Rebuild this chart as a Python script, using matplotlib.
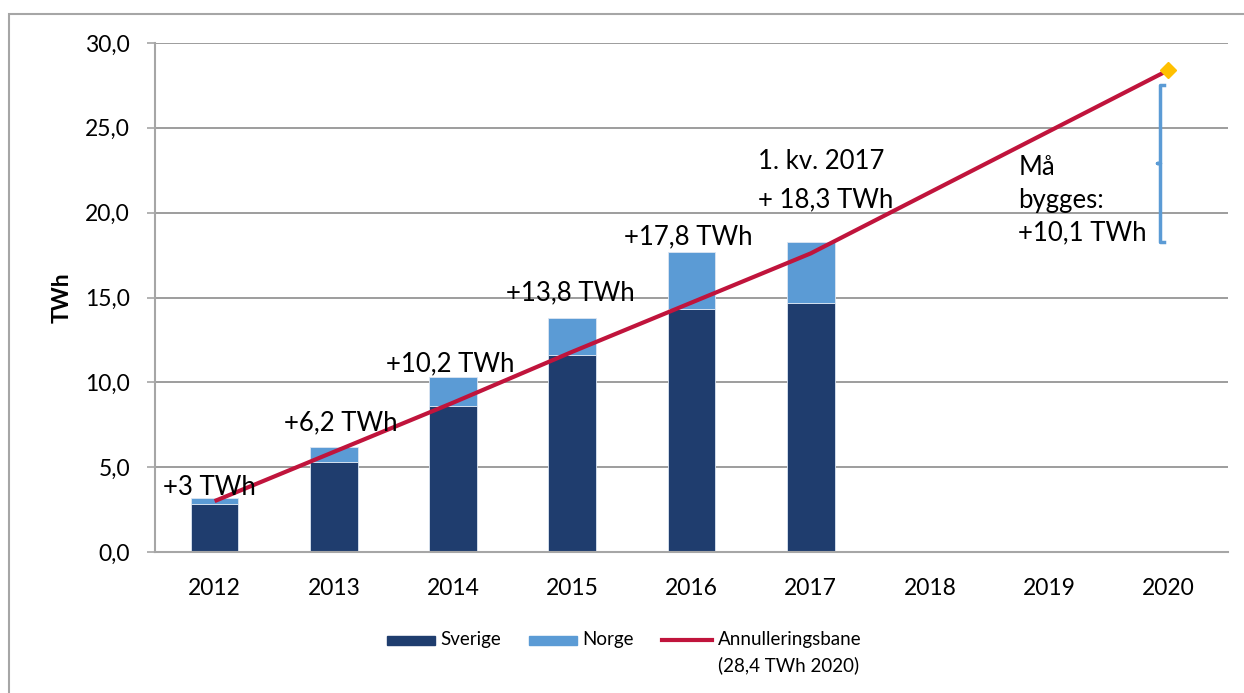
import matplotlib.pyplot as plt
from matplotlib.patches import Rectangle
from matplotlib.lines import Line2D

plt.rcParams["font.family"] = ["Lato", "DejaVu Sans"]

# data
aar = ["2012", "2013", "2014", "2015", "2016", "2017", "2018", "2019", "2020"]
sverige = [2.8, 5.3, 8.6, 11.6, 14.3, 14.7]
norge = [0.4, 0.9, 1.7, 2.2, 3.4, 3.6]
bane = [3.0, 5.9, 8.8, 11.8, 14.7, 17.6, 21.2, 24.8, 28.4]
etiketter = ["+3 TWh", "+6,2 TWh", "+10,2 TWh", "+13,8 TWh", "+17,8 TWh"]
kv_tekst = "1. kv. 2017\n+ 18,3 TWh"
maa_bygges = "Må\nbygges:\n+10,1 TWh"
klamme_topp = 27.5
klamme_bunn = 18.3

farge_sve = "#1F3D6E"
farge_nor = "#5B9BD5"
farge_bane = "#C0143C"
farge_grid = "#8C8C8C"

fig = plt.figure(figsize=(12.44, 6.93), dpi=100)
ax = fig.add_axes([155 / 1244, 1 - 552 / 693, (1228 - 155) / 1244, (552 - 43) / 693])

x = list(range(len(aar)))
xb = x[:len(sverige)]
ax.bar(xb, sverige, width=0.4, color=farge_sve, edgecolor="#DCE6F2", linewidth=0.6, zorder=2)
ax.bar(xb, norge, width=0.4, bottom=sverige, color=farge_nor, edgecolor="#DCE6F2",
       linewidth=0.6, zorder=2)
ax.plot(x, bane, color=farge_bane, linewidth=3, zorder=3, solid_capstyle="butt")
ax.plot([x[-1]], [bane[-1]], marker="D", color="#FFC000", markersize=8, zorder=4,
        clip_on=False)

# klamme
kx = 7.93
kmid = (klamme_topp + klamme_bunn) / 2
ax.plot([kx + 0.03, kx, kx, kx - 0.025, kx, kx, kx + 0.03],
        [klamme_topp, klamme_topp, kmid, kmid, kmid, klamme_bunn, klamme_bunn],
        color=farge_nor, linewidth=2.5, zorder=3, solid_joinstyle="round")

# etiketter
pos = [(-0.43, 3.8), (0.58, 7.6), (1.44, 11.1), (2.44, 15.3), (3.43, 18.6)]
for (px, py), t in zip(pos, etiketter):
    ax.text(px, py, t, fontsize=18.5, ha="left", va="center", zorder=5)
ax.text(4.56, 21.9, kv_tekst, fontsize=18.5, ha="left", va="center", linespacing=1.68,
        zorder=5)
ax.text(6.74, 20.74, maa_bygges, fontsize=18.5, ha="left", va="center", linespacing=1.37,
        zorder=5)

ax.set_xlim(-0.5, 8.5)
ax.set_ylim(0, 30)
ax.set_xticks(x)
ax.set_xticklabels(aar)
ax.set_yticks([0, 5, 10, 15, 20, 25, 30])
ax.set_yticklabels(["0,0", "5,0", "10,0", "15,0", "20,0", "25,0", "30,0"])
ax.tick_params(axis="x", length=0, pad=19, labelsize=16.5)
ax.tick_params(axis="y", length=6, width=1.2, color="#A6A6A6", pad=12, labelsize=16.5)
ax.yaxis.grid(True, color=farge_grid, linewidth=1.2, zorder=0)
ax.set_axisbelow(True)
for s in ["top", "right"]:
    ax.spines[s].set_visible(False)
for s in ["left", "bottom"]:
    ax.spines[s].set_color("#A6A6A6")
    ax.spines[s].set_linewidth(1.5)
ax.set_ylabel("TWh", fontsize=16.5, fontweight="bold", labelpad=9)

# ramme
fig.add_artist(Rectangle((9 / 1244, -0.2), 2, 1.2 - 14 / 693, transform=fig.transFigure,
                         fill=False, edgecolor="#A6A6A6", linewidth=1.5))

# legende
ly = 1 - 640 / 693
fig.add_artist(Rectangle((387 / 1244, ly - 4.5 / 693), 48 / 1244, 9 / 693,
                         transform=fig.transFigure, color=farge_sve))
fig.text(440 / 1244, ly, "Sverige", fontsize=13.5, va="center")
fig.add_artist(Rectangle((529 / 1244, ly - 4.5 / 693), 48 / 1244, 9 / 693,
                         transform=fig.transFigure, color=farge_nor))
fig.text(582 / 1244, ly, "Norge", fontsize=13.5, va="center")
fig.add_artist(Line2D([662 / 1244, 712 / 1244], [ly, ly], transform=fig.transFigure,
                      color=farge_bane, linewidth=3))
fig.text(718 / 1244, ly, "Annulleringsbane", fontsize=13.5, va="center")
fig.text(718 / 1244, ly - 25 / 693, "(28,4 TWh 2020)", fontsize=13.5, va="center")

fig.savefig("out.png", dpi=100)
